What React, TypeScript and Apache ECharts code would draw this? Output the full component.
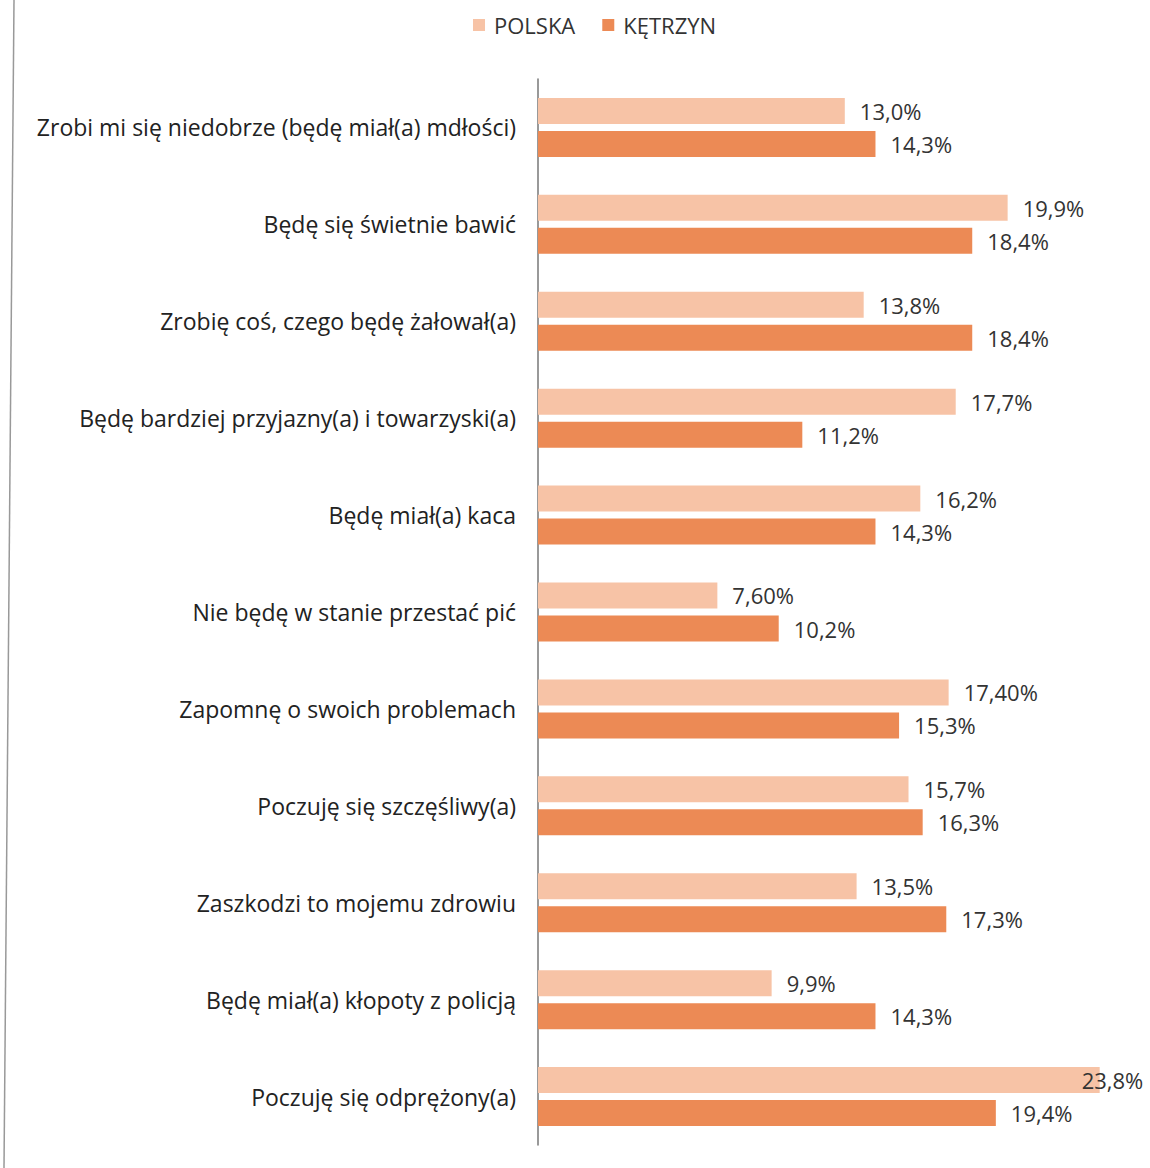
import React, { useEffect, useRef } from "react";
import * as echarts from "echarts";

const categories = [
  "Zrobi mi się niedobrze (będę miał(a) mdłości)",
  "Będę się świetnie bawić",
  "Zrobię coś, czego będę żałował(a)",
  "Będę bardziej przyjazny(a) i towarzyski(a)",
  "Będę miał(a) kaca",
  "Nie będę w stanie przestać pić",
  "Zapomnę o swoich problemach",
  "Poczuję się szczęśliwy(a)",
  "Zaszkodzi to mojemu zdrowiu",
  "Będę miał(a) kłopoty z policją",
  "Poczuję się odprężony(a)",
];
const polska = [13.0, 19.9, 13.8, 17.7, 16.2, 7.6, 17.4, 15.7, 13.5, 9.9, 23.8];
const polskaLabels = ["13,0%", "19,9%", "13,8%", "17,7%", "16,2%", "7,60%", "17,40%", "15,7%", "13,5%", "9,9%", "23,8%"];
const ketrzyn = [14.3, 18.4, 18.4, 11.2, 14.3, 10.2, 15.3, 16.3, 17.3, 14.3, 19.4];
const ketrzynLabels = ["14,3%", "18,4%", "18,4%", "11,2%", "14,3%", "10,2%", "15,3%", "16,3%", "17,3%", "14,3%", "19,4%"];
const seriesNames = ["POLSKA", "KĘTRZYN"];

const FONT = "'Open Sans', sans-serif";

export default function App() {
  const ref = useRef<HTMLDivElement>(null);
  useEffect(() => {
    document.body.style.margin = "0";
    const chart = echarts.init(ref.current!, null, { renderer: "svg" });
    const valueLabel = {
      show: true,
      position: "right",
      distance: 15,
      fontSize: 22,
      color: "#333",
      fontFamily: FONT,
    };
    chart.setOption({
      animation: false,
      backgroundColor: "#ffffff",
      legend: {
        data: seriesNames,
        top: 9,
        left: 468,
        itemWidth: 12,
        itemHeight: 12,
        itemGap: 27,
        icon: "rect",
        textStyle: { fontSize: 22, color: "#333", fontFamily: FONT, padding: [0, 0, 0, 4] },
      },
      grid: { left: 538, top: 79, width: 590, height: 1066, containLabel: false },
      xAxis: {
        type: "value",
        min: 0,
        max: 25,
        show: false,
        splitLine: { show: false },
      },
      yAxis: {
        type: "category",
        data: categories,
        inverse: true,
        axisTick: { show: false },
        axisLine: { show: true, lineStyle: { color: "#777", width: 1.5 } },
        axisLabel: { fontSize: 23, color: "#222", margin: 22, fontFamily: FONT },
      },
      graphic: [
        {
          type: "line",
          shape: { x1: 14, y1: 0, x2: 4, y2: 1168 },
          style: { stroke: "#999", lineWidth: 1.5 },
        },
      ],
      series: [
        {
          name: seriesNames[0],
          type: "bar",
          data: polska.map((v, i) =>
            i === polska.length - 1 ? { value: v, label: { distance: -18 } } : v
          ),
          barWidth: 26,
          barGap: "27%",
          itemStyle: { color: "#F7C3A6" },
          label: { ...valueLabel, formatter: (p: any) => polskaLabels[p.dataIndex] },
        },
        {
          name: seriesNames[1],
          type: "bar",
          data: ketrzyn,
          barWidth: 26,
          itemStyle: { color: "#EC8A55" },
          label: { ...valueLabel, formatter: (p: any) => ketrzynLabels[p.dataIndex] },
        },
      ],
    });
    return () => chart.dispose();
  }, []);
  return (
    <div
      ref={ref}
      style={{ position: "absolute", left: 0, top: 0, width: 1150, height: 1168 }}
    />
  );
}
